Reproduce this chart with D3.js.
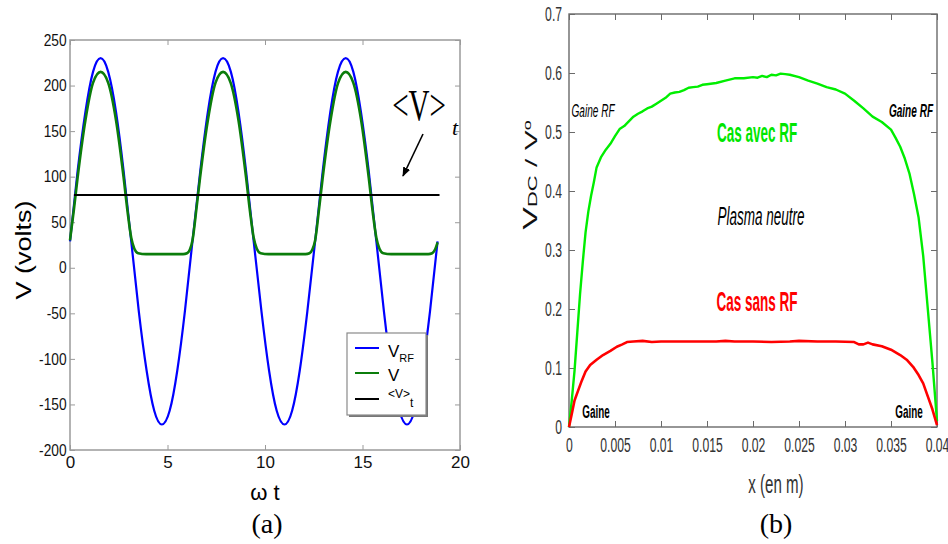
<!DOCTYPE html>
<html>
<head>
<meta charset="utf-8">
<script src="https://cdn.jsdelivr.net/npm/d3@7"></script>
<style>
  body { margin: 0; background: #fff; }
  svg { display: block; }
  text { font-family: Arial, "Liberation Sans", sans-serif; }
</style>
</head>
<body>
<svg id="chart" width="948" height="544"></svg>
<script>
// ---- panel (a) data ----
const rfTime = [0, 0.39, 0.79, 1.18, 1.57, 1.96, 2.36, 2.75, 3.14, 3.53, 3.93, 4.32, 4.71, 5.11, 5.50, 5.89,
  6.28, 6.68, 7.07, 7.46, 7.85, 8.25, 8.64, 9.03, 9.42, 9.82, 10.21, 10.60, 11.00, 11.39, 11.78, 12.17,
  12.57, 12.96, 13.35, 13.74, 14.14, 14.53, 14.92, 15.32, 15.71, 16.10, 16.49, 16.89, 17.28, 17.67, 18.06, 18.46, 18.85];
const rfVolts = [29, 106, 171, 215, 230, 215, 171, 106, 29, -48, -113, -157, -172, -157, -113, -48,
  29, 106, 171, 215, 230, 215, 171, 106, 29, -48, -113, -157, -172, -157, -113, -48,
  29, 106, 171, 215, 230, 215, 171, 106, 29, -48, -113, -157, -172, -157, -113, -48, 29];

const vTime = [0, 0.2, 0.39, 0.79, 1.18, 1.57, 1.96, 2.36, 2.75, 2.95, 3.14, 3.3, 3.5, 3.9, 5.8, 6.0, 6.15,
  6.28, 6.48, 6.67, 7.07, 7.46, 7.85, 8.24, 8.64, 9.03, 9.23, 9.42, 9.58, 9.78, 10.18, 12.08, 12.28, 12.43,
  12.57, 12.77, 12.96, 13.36, 13.75, 14.14, 14.53, 14.93, 15.32, 15.52, 15.71, 15.87, 16.07, 16.47, 18.37, 18.57, 18.72, 18.85];
const vVolts = [30, 64, 99, 162, 203, 215, 203, 162, 99, 62, 33, 21, 16, 15, 15, 16, 20,
  30, 64, 99, 162, 203, 215, 203, 162, 99, 62, 33, 21, 16, 15, 15, 16, 20,
  30, 64, 99, 162, 203, 215, 203, 162, 99, 62, 33, 21, 16, 15, 15, 16, 20, 28];

const meanTime = [0.2, 18.95];
const meanVolts = [80, 80];

const aXTicks = [0, 5, 10, 15, 20];
const aYTicks = [-200, -150, -100, -50, 0, 50, 100, 150, 200, 250];

// ---- panel (b) data ----
const avecX = [0, 0.0003, 0.0006, 0.0009, 0.0012, 0.0015, 0.0018, 0.0021, 0.0024, 0.0027, 0.003, 0.0035,
  0.004, 0.0045, 0.005, 0.0055, 0.006, 0.0065, 0.007, 0.0075, 0.008, 0.0085, 0.009, 0.0095, 0.01, 0.0105,
  0.011, 0.0115, 0.012, 0.0125, 0.013, 0.0135, 0.014, 0.0145, 0.015, 0.016, 0.017, 0.018, 0.019, 0.02,
  0.0205, 0.021, 0.0215, 0.022, 0.0225, 0.023, 0.0235, 0.024, 0.025, 0.026, 0.027, 0.028, 0.029, 0.03,
  0.031, 0.032, 0.033, 0.034, 0.035, 0.0355, 0.036, 0.0365, 0.037, 0.0375, 0.038, 0.0385, 0.039, 0.0395, 0.04];
const avecV = [0, 0.045, 0.095, 0.16, 0.225, 0.28, 0.33, 0.365, 0.392, 0.415, 0.44, 0.458,
  0.47, 0.48, 0.493, 0.505, 0.51, 0.518, 0.526, 0.531, 0.535, 0.54, 0.543, 0.548, 0.553, 0.558,
  0.565, 0.567, 0.568, 0.571, 0.575, 0.576, 0.577, 0.58, 0.581, 0.583, 0.587, 0.591, 0.591, 0.593,
  0.592, 0.595, 0.593, 0.597, 0.596, 0.599, 0.598, 0.597, 0.593, 0.587, 0.582, 0.576, 0.572, 0.565,
  0.553, 0.54, 0.526, 0.517, 0.504, 0.49, 0.475, 0.455, 0.43, 0.395, 0.355, 0.29, 0.2, 0.11, 0.01];

const sansX = [0, 0.0003, 0.0006, 0.001, 0.0014, 0.0018, 0.0023, 0.003, 0.0037, 0.0045, 0.0052, 0.0058,
  0.0063, 0.007, 0.008, 0.009, 0.01, 0.012, 0.014, 0.016, 0.017, 0.018, 0.02, 0.022, 0.024, 0.025, 0.027,
  0.029, 0.031, 0.0315, 0.032, 0.0325, 0.033, 0.034, 0.035, 0.036, 0.0367, 0.0374, 0.038, 0.0385, 0.039, 0.0395, 0.04];
const sansV = [0, 0.022, 0.045, 0.062, 0.079, 0.094, 0.105, 0.114, 0.122, 0.129, 0.136, 0.14,
  0.144, 0.145, 0.146, 0.144, 0.145, 0.145, 0.145, 0.145, 0.146, 0.145, 0.145, 0.144, 0.145, 0.146, 0.145,
  0.145, 0.144, 0.14, 0.14, 0.143, 0.14, 0.137, 0.131, 0.122, 0.114, 0.102, 0.088, 0.074, 0.052, 0.03, 0.003];

const bXTicks = [0, 0.005, 0.01, 0.015, 0.02, 0.025, 0.03, 0.035, 0.04];
const bXLabels = ["0", "0.005", "0.01", "0.015", "0.02", "0.025", "0.03", "0.035", "0.04"];
const bYTicks = [0, 0.1, 0.2, 0.3, 0.4, 0.5, 0.6, 0.7];
const bYLabels = ["0", "0.1", "0.2", "0.3", "0.4", "0.5", "0.6", "0.7"];

const svg = d3.select("#chart");

function zip(xs, ys) {
  return xs.map((x, i) => [x, ys[i]]);
}

// squeezed text, like the narrow fonts of the picture
function label(x, y, txt, opts) {
  const o = Object.assign({ size: 16, sx: 1, anchor: "middle", fill: "#000", weight: "normal", style: "normal", family: null }, opts);
  const t = svg.append("g")
    .attr("transform", `translate(${x},${y}) scale(${o.sx},1)`)
    .append("text")
    .attr("text-anchor", o.anchor)
    .attr("font-size", o.size)
    .attr("font-weight", o.weight)
    .attr("font-style", o.style)
    .attr("fill", o.fill)
    .text(txt);
  if (o.family) t.style("font-family", o.family);
  return t;
}

// ================= panel (a) =================
const ax = d3.scaleLinear().domain([0, 20]).range([70, 460]);
const ay = d3.scaleLinear().domain([-200, 250]).range([450, 40]);

const gA = svg.append("g");
gA.append("rect")
  .attr("x", 70).attr("y", 40).attr("width", 390).attr("height", 410)
  .attr("fill", "none").attr("stroke", "#9a9a9a").attr("stroke-width", 1.5);

gA.append("g").attr("transform", "translate(0,450)")
  .call(d3.axisBottom(ax).tickValues(aXTicks).tickSize(-5).tickPadding(6).tickFormat(d => d))
  .call(g => g.select(".domain").remove())
  .call(g => g.selectAll("line").attr("stroke", "#9a9a9a"))
  .call(g => g.selectAll("text").attr("font-size", 17).attr("fill", "#111").style("font-family", "Arial, 'Liberation Sans', sans-serif"));
gA.append("g").attr("transform", "translate(0,40)")
  .call(d3.axisTop(ax).tickValues(aXTicks).tickSize(-5).tickFormat(""))
  .call(g => g.select(".domain").remove())
  .call(g => g.selectAll("line").attr("stroke", "#9a9a9a"));
gA.append("g").attr("transform", "translate(70,0)")
  .call(d3.axisLeft(ay).tickValues(aYTicks).tickSize(-5).tickPadding(4).tickFormat(d => d))
  .call(g => g.select(".domain").remove())
  .call(g => g.selectAll("line").attr("stroke", "#9a9a9a"))
  .call(g => g.selectAll("text").attr("font-size", 16).attr("fill", "#111")
    .attr("transform", "scale(0.86,1)").style("font-family", "Arial, 'Liberation Sans', sans-serif"));
gA.append("g").attr("transform", "translate(460,0)")
  .call(d3.axisRight(ay).tickValues(aYTicks).tickSize(-5).tickFormat(""))
  .call(g => g.select(".domain").remove())
  .call(g => g.selectAll("line").attr("stroke", "#9a9a9a"));

const aLine = d3.line().x(d => ax(d[0])).y(d => ay(d[1]));

gA.append("path")
  .attr("d", aLine.curve(d3.curveNatural)(zip(rfTime, rfVolts)))
  .attr("fill", "none").attr("stroke", "#0000ff").attr("stroke-width", 2.2);
gA.append("path")
  .attr("d", aLine.curve(d3.curveMonotoneX)(zip(vTime, vVolts)))
  .attr("fill", "none").attr("stroke", "#0b7d0b").attr("stroke-width", 2.6);
gA.append("path")
  .attr("d", aLine.curve(d3.curveLinear)(zip(meanTime, meanVolts)))
  .attr("fill", "none").attr("stroke", "#000").attr("stroke-width", 2);

// annotation <V>t and arrow
label(419, 120, "<V>", { size: 44, sx: 0.66, family: "'Liberation Serif', 'Times New Roman', serif" });
label(452, 135, "t", { size: 22, anchor: "start", style: "italic", family: "'Liberation Serif', 'Times New Roman', serif" });
svg.append("defs").append("marker")
  .attr("id", "arrowhead").attr("viewBox", "0 0 10 10")
  .attr("refX", 9).attr("refY", 5)
  .attr("markerWidth", 6).attr("markerHeight", 6)
  .attr("orient", "auto")
  .append("path").attr("d", "M0,1 L10,5 L0,9 Z").attr("fill", "#000");
gA.append("line")
  .attr("x1", 423).attr("y1", 134).attr("x2", 403).attr("y2", 176)
  .attr("stroke", "#000").attr("stroke-width", 1.6)
  .attr("marker-end", "url(#arrowhead)");

// legend
const leg = gA.append("g");
leg.append("rect").attr("x", 349).attr("y", 335).attr("width", 79).attr("height", 82).attr("fill", "#777");
leg.append("rect").attr("x", 347).attr("y", 333).attr("width", 79).attr("height", 82)
  .attr("fill", "#fff").attr("stroke", "#8a8a8a").attr("stroke-width", 1.2);
const legItems = [
  { c: "#0000ff", y: 348 },
  { c: "#0b7d0b", y: 373 },
  { c: "#000", y: 399 }
];
legItems.forEach(d => {
  leg.append("line").attr("x1", 355).attr("x2", 379).attr("y1", d.y).attr("y2", d.y)
    .attr("stroke", d.c).attr("stroke-width", 2);
});
const l1 = leg.append("text").attr("x", 388).attr("y", 357).attr("font-size", 17);
l1.append("tspan").text("V");
l1.append("tspan").attr("font-size", 11).attr("dy", 5).text("RF");
leg.append("text").attr("x", 388).attr("y", 381).attr("font-size", 17).text("V");
const l3 = leg.append("text").attr("x", 388).attr("y", 398).attr("font-size", 12);
l3.append("tspan").text("<V>");
l3.append("tspan").attr("font-size", 12).attr("dy", 9).text("t");

// axis titles
svg.append("g")
  .attr("transform", "translate(31,250) scale(0.8,1) rotate(-90)")
  .append("text").attr("text-anchor", "middle").attr("font-size", 27).attr("fill", "#000")
  .text("V (volts)");
label(265, 500, "ω t", { size: 22 });
label(267, 533, "(a)", { size: 28, family: "'Liberation Serif', 'Times New Roman', serif" });

// ================= panel (b) =================
const bx = d3.scaleLinear().domain([0, 0.04]).range([569, 937]);
const by = d3.scaleLinear().domain([0, 0.7]).range([427, 14]);
const gB = svg.append("g");
gB.append("rect")
  .attr("x", 569).attr("y", 14).attr("width", 368).attr("height", 413)
  .attr("fill", "none").attr("stroke", "#6a6a6a").attr("stroke-width", 1.4);

gB.append("g").attr("transform", "translate(0,427)")
  .call(d3.axisBottom(bx).tickValues(bXTicks).tickSize(-6).tickPadding(10).tickFormat((d, i) => bXLabels[i]))
  .call(g => g.select(".domain").remove())
  .call(g => g.selectAll("line").attr("stroke", "#6a6a6a"))
  .call(g => g.selectAll("text").attr("font-size", 21).attr("fill", "#333")
    .attr("transform", "scale(0.58,1)").style("font-family", "Arial, 'Liberation Sans', sans-serif"));
gB.append("g").attr("transform", "translate(0,14)")
  .call(d3.axisTop(bx).tickValues(bXTicks).tickSize(-6).tickFormat(""))
  .call(g => g.select(".domain").remove())
  .call(g => g.selectAll("line").attr("stroke", "#6a6a6a"));
gB.append("g").attr("transform", "translate(569,0)")
  .call(d3.axisLeft(by).tickValues(bYTicks).tickSize(-6).tickPadding(12).tickFormat((d, i) => bYLabels[i]))
  .call(g => g.select(".domain").remove())
  .call(g => g.selectAll("line").attr("stroke", "#6a6a6a"))
  .call(g => g.selectAll("text").attr("font-size", 21).attr("fill", "#333")
    .attr("transform", "scale(0.58,1)").style("font-family", "Arial, 'Liberation Sans', sans-serif"));
gB.append("g").attr("transform", "translate(937,0)")
  .call(d3.axisRight(by).tickValues(bYTicks).tickSize(-6).tickFormat(""))
  .call(g => g.select(".domain").remove())
  .call(g => g.selectAll("line").attr("stroke", "#6a6a6a"));

const bLine = d3.line().x(d => bx(d[0])).y(d => by(d[1]));
gB.append("path")
  .attr("d", bLine(zip(avecX, avecV)))
  .attr("fill", "none").attr("stroke", "#00ee00").attr("stroke-width", 2.4).attr("stroke-linejoin", "round");
gB.append("path")
  .attr("d", bLine(zip(sansX, sansV)))
  .attr("fill", "none").attr("stroke", "#ff0000").attr("stroke-width", 2.6).attr("stroke-linejoin", "round");

// in-plot labels
label(593, 117, "Gaine RF", { size: 18, sx: 0.56, style: "italic" });
label(911, 117, "Gaine RF", { size: 18, sx: 0.56, style: "italic", weight: "bold" });
label(757, 142, "Cas avec RF", { size: 27, sx: 0.5, weight: "bold", fill: "#00e600" });
label(761, 225, "Plasma neutre", { size: 26, sx: 0.52, style: "italic" });
label(757, 311, "Cas sans RF", { size: 27, sx: 0.5, weight: "bold", fill: "#ff0000" });
label(596, 418, "Gaine", { size: 19, sx: 0.52, weight: "bold" });
label(909, 418, "Gaine", { size: 19, sx: 0.52, weight: "bold" });

// axis titles (b)
label(776, 493, "x (en m)", { size: 26, sx: 0.58, fill: "#333" });
const yl = svg.append("g")
  .attr("transform", "translate(537,175) scale(0.58,1) rotate(-90)")
  .append("text").attr("text-anchor", "middle").attr("font-size", 34).attr("fill", "#111");
yl.append("tspan").text("V");
yl.append("tspan").attr("font-size", 22).text("DC");
yl.append("tspan").attr("font-size", 30).text(" / V");
yl.append("tspan").attr("font-size", 18).attr("dy", -10).text("o");
label(776, 533, "(b)", { size: 28, family: "'Liberation Serif', 'Times New Roman', serif" });
</script>
</body>
</html>
